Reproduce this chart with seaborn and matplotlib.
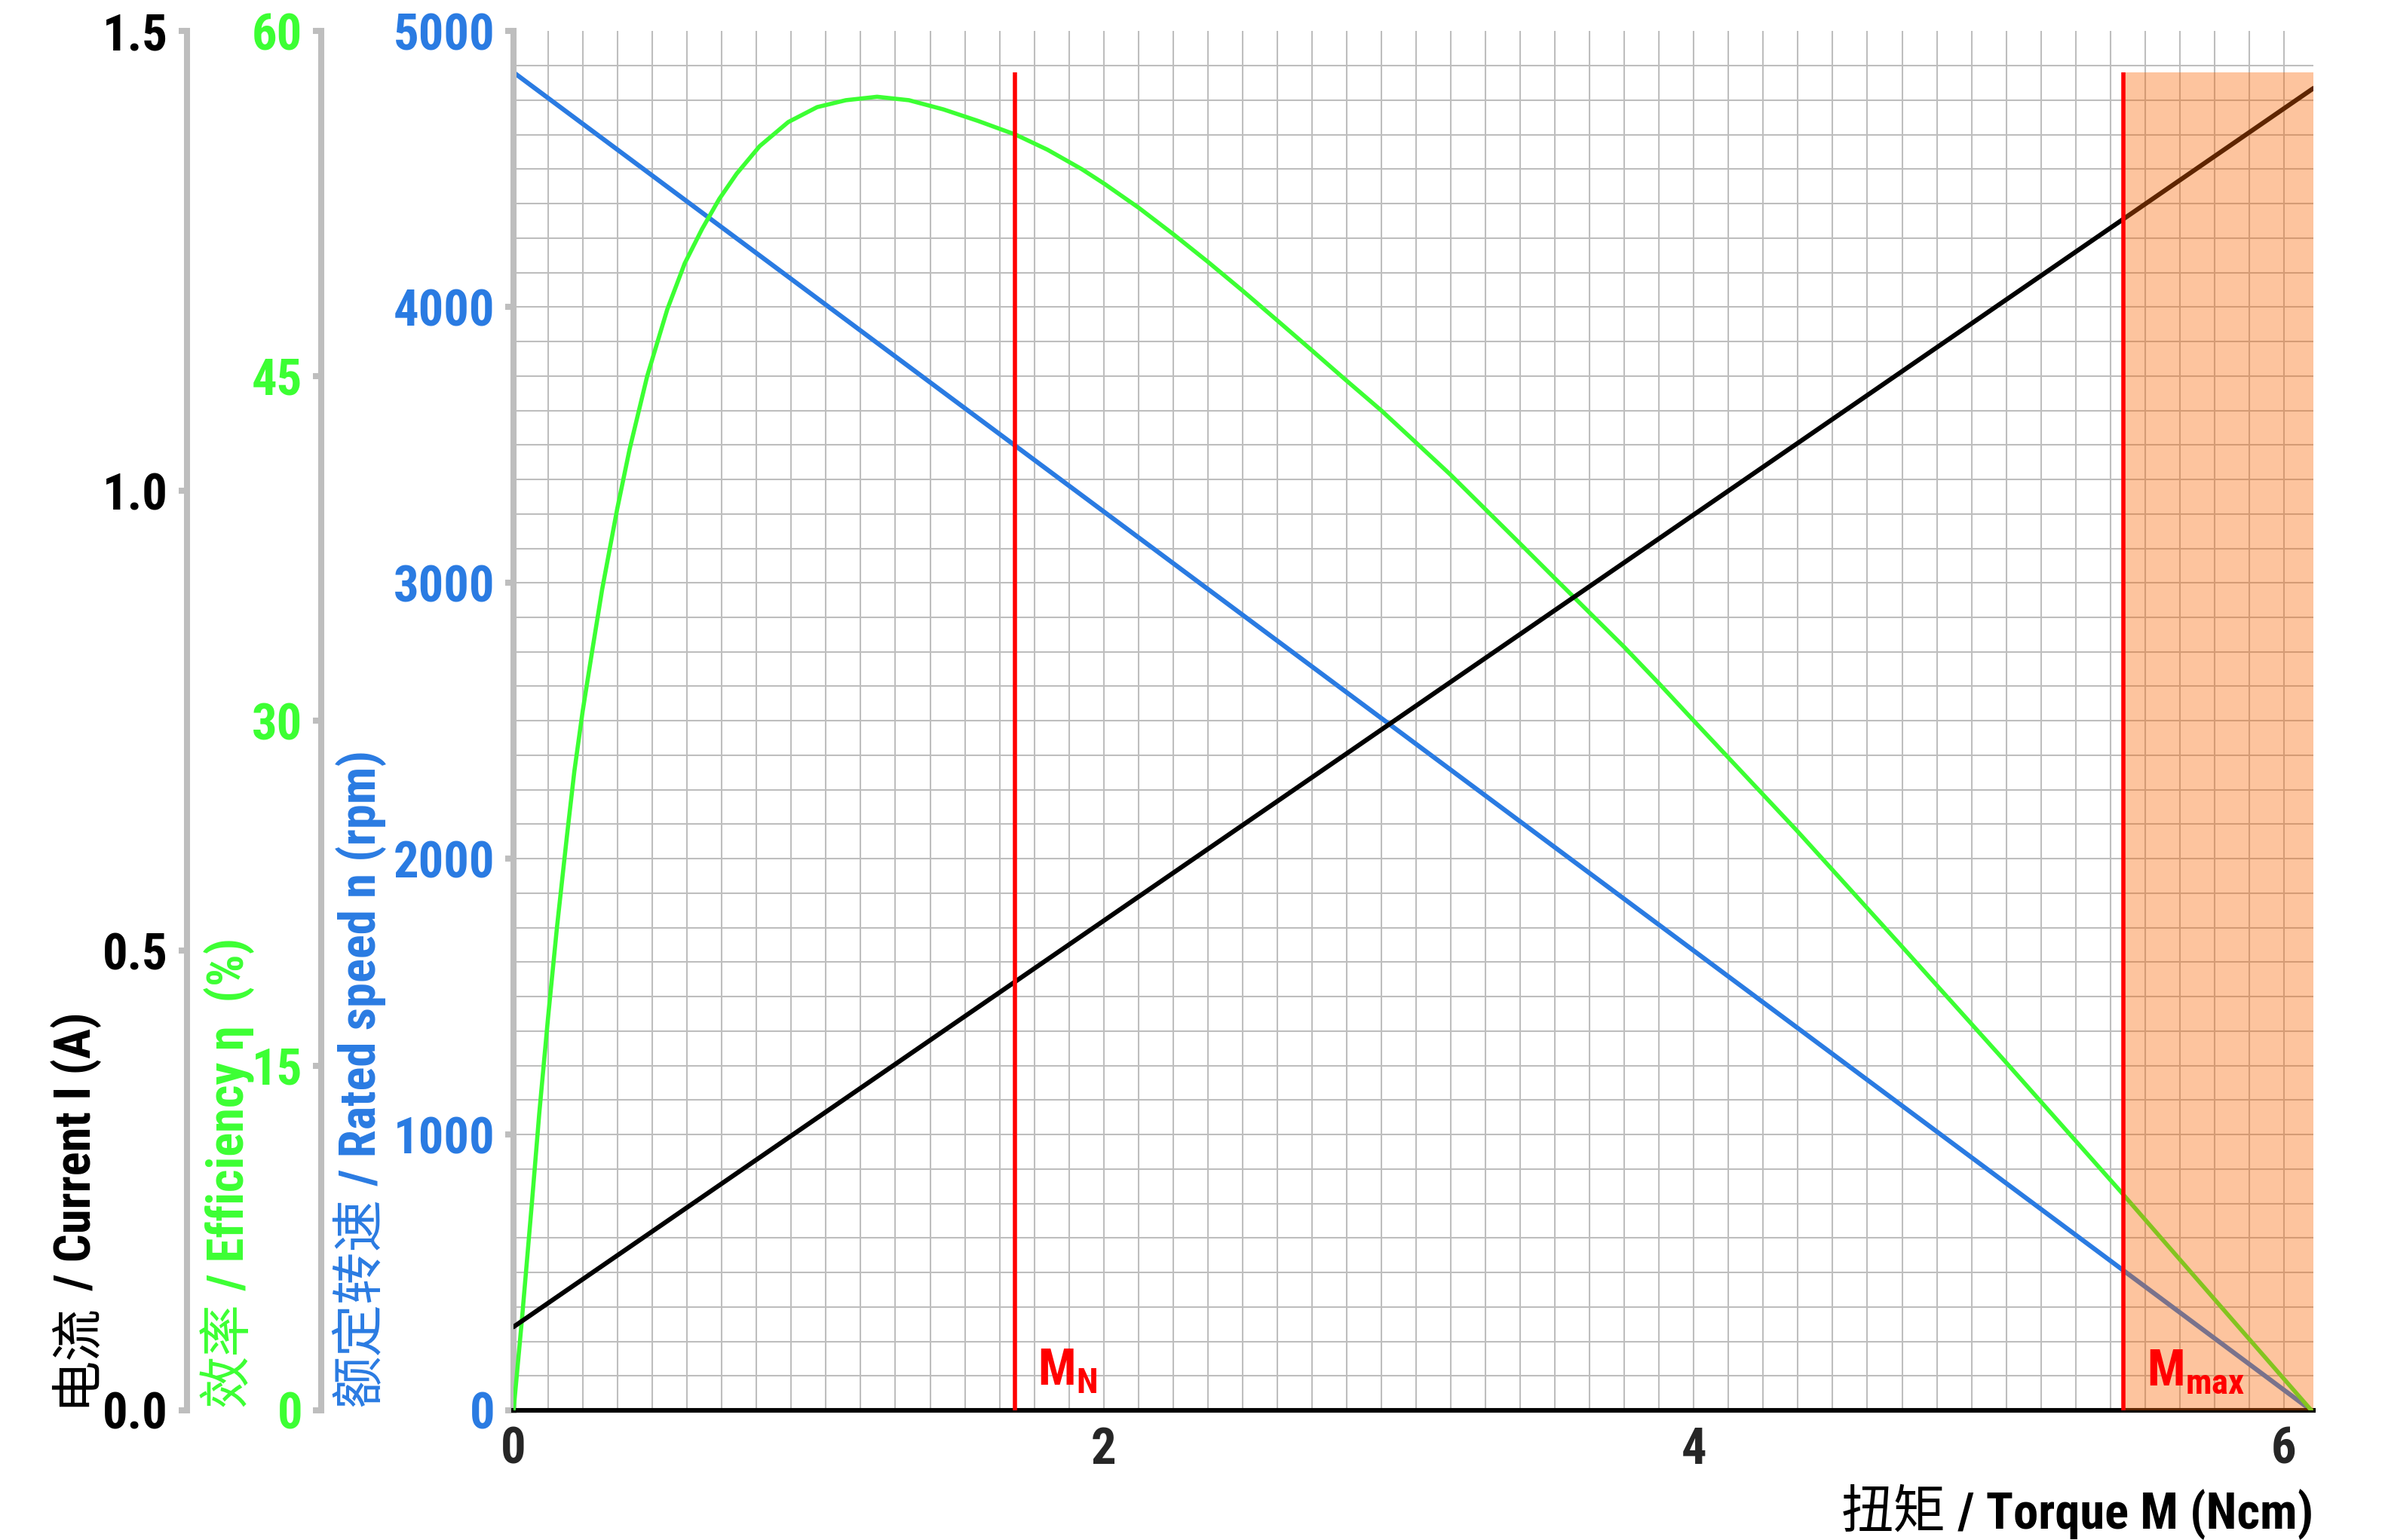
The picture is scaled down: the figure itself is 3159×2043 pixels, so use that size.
import matplotlib
matplotlib.use("Agg")
import matplotlib.pyplot as plt
from matplotlib import font_manager
from matplotlib.ticker import MultipleLocator, FormatStrFormatter
import seaborn as sns

# values
torque_eff = [0, 0.028, 0.062, 0.087, 0.117, 0.147, 0.181, 0.206, 0.234, 0.266,
              0.300, 0.351, 0.393, 0.453, 0.521, 0.580, 0.639, 0.697, 0.756, 0.834,
              0.931, 1.029, 1.126, 1.232, 1.340, 1.457, 1.574, 1.702, 1.809, 1.926,
              2.004, 2.121, 2.238, 2.355, 2.472, 2.590, 2.707, 2.814, 2.941, 3.059,
              3.176, 3.294, 3.412, 3.529, 3.647, 3.765, 3.884, 4.000, 4.351, 4.704,
              5.054, 5.448, 5.699, 6.093]
efficiency = [0, 3.9, 9.0, 12.9, 17.1, 21.0, 25.0, 27.8, 30.4, 33.0,
              35.7, 39.2, 41.8, 45.0, 47.9, 49.9, 51.4, 52.7, 53.8, 55.0,
              56.05, 56.7, 57.0, 57.15, 57.0, 56.6, 56.1, 55.5, 54.85, 54.0,
              53.35, 52.3, 51.15, 49.95, 48.7, 47.4, 46.1, 44.9, 43.5, 42.1,
              40.7, 39.2, 37.7, 36.2, 34.7, 33.2, 31.6, 30.0, 25.2, 20.2,
              15.2, 9.5, 5.8, 0]
torque_speed = [0, 6.093]
speed_rpm = [4851, 0]
torque_current = [0, 6.1]
current_a = [0.0908, 1.438]

M_N = 1.70
M_MAX = 5.455
N0 = 4851
X_MAX = 6.1

current_ticks = [0.0, 0.5, 1.0, 1.5]
eff_ticks = [0, 15, 30, 45, 60]
speed_ticks = [0, 1000, 2000, 3000, 4000, 5000]
torque_ticks = [0, 2, 4, 6]

GREEN = "#3CFF33"
BLUE = "#2A7BE2"
GREY = "#BEBEBE"
RED = "#FF0000"

sns.set_style("white")
names = {f.name for f in font_manager.fontManager.ttflist}
latin = next(n for n in ("Roboto Condensed", "Liberation Sans Narrow", "Liberation Sans", "DejaVu Sans")
             if n in names)
plt.rcParams["font.family"] = [latin, "DejaVu Sans"]
plt.rcParams["font.weight"] = "bold"
CJK = ["Noto Sans CJK SC", "DejaVu Sans"]

fig = plt.figure(figsize=(15.795, 10.215), dpi=200, facecolor="white")
ax = fig.add_axes([0.2156, 0.0842, 0.7556, 0.8955])
ax_eff = ax.twinx()
ax_cur = ax.twinx()
ax_top = ax.twinx()

sns.lineplot(x=torque_speed, y=speed_rpm, ax=ax, color=BLUE, lw=2.2, estimator=None)
sns.lineplot(x=torque_eff, y=efficiency, ax=ax_eff, color=GREEN, lw=2.0, estimator=None)
sns.lineplot(x=torque_current, y=current_a, ax=ax_cur, color="black", lw=2.2, estimator=None)

ax.set_xlim(0, X_MAX)
ax.set_ylim(0, 5000)
ax_eff.set_ylim(0, 60)
ax_cur.set_ylim(0, 1.5)
ax_top.set_ylim(0, 5000)
for a in (ax, ax_eff, ax_cur, ax_top):
    a.set_xlabel("")
    a.set_ylabel("")
    for s in a.spines.values():
        s.set_visible(False)

# three stacked left axes
for a, off, col, ticks in ((ax, 0, BLUE, speed_ticks), (ax_eff, -0.1068, GREEN, eff_ticks),
                           (ax_cur, -0.1814, "black", current_ticks)):
    sp = a.spines["left"]
    sp.set_visible(True)
    sp.set_position(("axes", off))
    sp.set_color(GREY)
    sp.set_linewidth(2.9)
    a.yaxis.set_ticks_position("left")
    a.set_yticks(ticks)
    a.tick_params(axis="y", which="major", length=4, width=2.9, color=GREY, pad=5,
                  labelsize=24, labelcolor=col)
ax_cur.yaxis.set_major_formatter(FormatStrFormatter("%.1f"))
ax_top.yaxis.set_visible(False)

ax.spines["bottom"].set_visible(True)
ax.spines["bottom"].set_color("black")
ax.spines["bottom"].set_linewidth(2.2)
ax.set_xticks(torque_ticks)
ax.tick_params(axis="x", which="major", length=3.5, width=2, color="black", pad=4, labelsize=24)

# fine paper grid
ax.xaxis.set_minor_locator(MultipleLocator(2 / 17))
ax.yaxis.set_minor_locator(MultipleLocator(125))
ax.tick_params(which="minor", length=0)
ax.grid(True, which="both", color=GREY, lw=0.75)
ax.set_axisbelow(True)
ax.yaxis.get_major_ticks()[-1].gridline.set_visible(False)

# overload zone and torque markers
ax_top.axvspan(M_MAX, X_MAX, ymin=0, ymax=N0 / 5000, color="#FA6400", alpha=0.38, lw=0, zorder=1)
ax_top.vlines([M_N, M_MAX], 0, N0, color=RED, lw=2, zorder=2)
ax_top.text(M_N + 0.075, 90, r"M$_\mathregular{N}$", color=RED, fontsize=24, zorder=3)
ax_top.text(M_MAX + 0.079, 90, r"M$_\mathregular{max}$", color=RED, fontsize=24, zorder=3)


def ylabel_pair(x, cjk, rest, color):
    t = fig.text(x, 0.0866, cjk, color=color, fontsize=25, fontweight="normal", family=CJK,
                 rotation=90, rotation_mode="anchor", ha="left", va="bottom")
    ax.annotate(rest, xy=(1, 1), xycoords=t, color=color, fontsize=24, rotation=90,
                rotation_mode="anchor", ha="left", va="bottom")


ylabel_pair(0.0427, "电流", " / Current I (A)", "black")
ylabel_pair(0.1070, "效率", " / Efficiency η  (%)", GREEN)
ylabel_pair(0.1624, "额定转速", " / Rated speed n (rpm)", BLUE)

xl = fig.text(0.9712, 0.0073, " / Torque M (Ncm)", color="black", fontsize=24, ha="right", va="baseline")
ax.annotate("扭矩", xy=(0, 0), xycoords=xl, color="black", fontsize=25, fontweight="normal",
            family=CJK, ha="right", va="bottom")

fig.savefig("out.png", dpi=200)
